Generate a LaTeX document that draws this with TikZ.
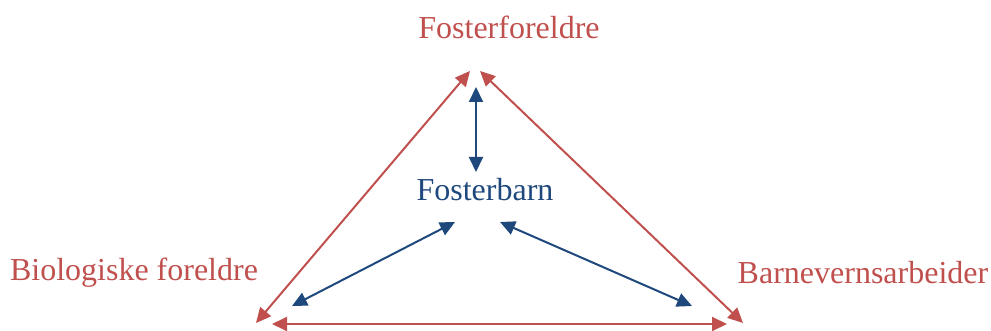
\documentclass[tikz,border=0pt]{standalone}
\usepackage{fontspec}
\setmainfont{Liberation Serif}
\usetikzlibrary{arrows.meta}
\definecolor{myred}{HTML}{C0504D}
\definecolor{myblue}{HTML}{1F497D}
\begin{document}
\begin{tikzpicture}[x=1pt,y=-1pt,
  lbl/.style={font=\fontsize{32}{38}\selectfont, inner sep=0pt, anchor=center},
  redline/.style={draw=myred, line width=2pt, {Triangle[length=15pt,width=14pt]}-{Triangle[length=15pt,width=14pt]}, fill=myred},
  blueline/.style={draw=myblue, line width=2pt, {Triangle[length=15pt,width=14pt]}-{Triangle[length=15pt,width=14pt]}, fill=myblue}]
\useasboundingbox (0,0) rectangle (991,331);
\node[lbl, text=myred] (ff) at (509,27) {Fosterforeldre};
\node[lbl, text=myblue] (fb) at (485,190) {Fosterbarn};
\node[lbl, text=myred] (bf) at (134,273) {Biologiske foreldre};
\node[lbl, text=myred] (ba) at (863,273) {Barnevernsarbeider};
% red endpoints
\coordinate (rtl) at (470,71);
\coordinate (rtr) at (480,71);
\coordinate (rbl) at (256,323);
\coordinate (rbr) at (743,323);
\coordinate (rhl) at (272,324);
\coordinate (rhr) at (727,324);
% blue endpoints
\coordinate (bvt) at (476,87);
\coordinate (bvb) at (476,172);
\coordinate (blt) at (455,222);
\coordinate (blb) at (292,306);
\coordinate (brt) at (500,222);
\coordinate (brb) at (692,306);
\draw[redline] (rbl) -- (rtl);
\draw[redline] (rtr) -- (rbr);
\draw[redline] (rhl) -- (rhr);
\draw[blueline] (bvt) -- (bvb);
\draw[blueline] (blt) -- (blb);
\draw[blueline] (brt) -- (brb);
\end{tikzpicture}
\end{document}
